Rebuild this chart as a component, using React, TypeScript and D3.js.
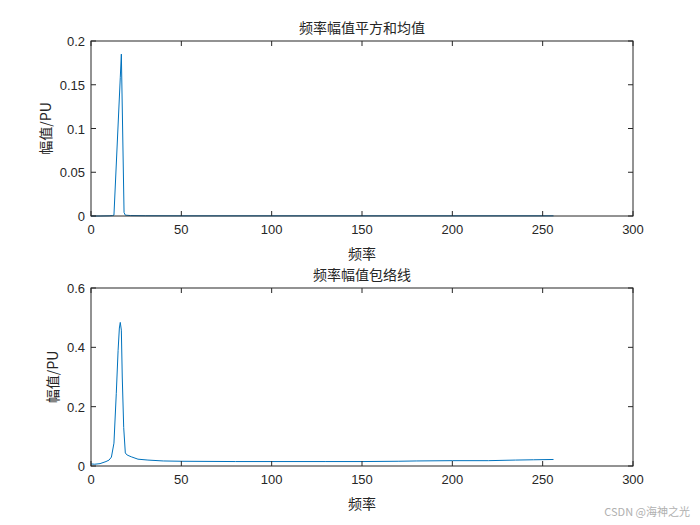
import React from "react";
import * as d3 from "d3";

const topTitle = "频率幅值平方和均值";
const bottomTitle = "频率幅值包络线";
const xLabel = "频率";
const yLabel = "幅值/PU";
const xTicks = [0, 50, 100, 150, 200, 250, 300];
const topYTicks = [0, 0.05, 0.1, 0.15, 0.2];
const bottomYTicks = [0, 0.2, 0.4, 0.6];

// top series: frequency / value
const topFreq = [0, 5, 10, 12, 12.7, 16.2, 16.8, 18.3, 19, 22, 30, 50, 100, 150, 200, 256];
const topVal = [0, 0, 0.0002, 0.0005, 0.001, 0.158, 0.185, 0.004, 0.001, 0.0005, 0.0003, 0.0002, 0.0002, 0.0002, 0.0002, 0.0002];

// bottom series: envelope
const botFreq = [0, 2, 5, 8.3, 10, 11.3, 12.7, 14, 15, 15.7, 16.2, 16.8, 17.3, 18.1, 19, 20, 22.3, 26, 31.5, 40, 50, 80, 100, 130, 150, 170, 180, 200, 220, 235, 245, 256];
const botVal = [0.007, 0.006, 0.008, 0.015, 0.02, 0.03, 0.077, 0.245, 0.39, 0.465, 0.484, 0.458, 0.3, 0.13, 0.044, 0.037, 0.031, 0.023, 0.02, 0.017, 0.016, 0.015, 0.015, 0.015, 0.015, 0.016, 0.017, 0.018, 0.018, 0.02, 0.021, 0.022];

const L = 91, R = 633;
const axisColor = "#262626";
const lineColor = "#0072BD";
const fontLatin = "Liberation Sans, Arial, sans-serif";
const fontCJK = "'Noto Sans CJK SC', sans-serif";

function Panel({ top, bottom, yTicks, yMax, freq, vals, title, yFmt }: any) {
  const x = d3.scaleLinear().domain([0, 300]).range([L, R]);
  const y = d3.scaleLinear().domain([0, yMax]).range([bottom, top]);
  const line = d3.line<number>().x((_, i) => x(freq[i])).y((d) => y(d));
  const tl = 5;
  const midY = (top + bottom) / 2;
  return (
    <g>
      <rect x={L} y={top} width={R - L} height={bottom - top} fill="#fff" />
      <path d={line(vals) || ""} fill="none" stroke={lineColor} strokeWidth={1} />
      <rect x={L} y={top} width={R - L} height={bottom - top} fill="none" stroke={axisColor} strokeWidth={1} />
      {xTicks.map((t) => (
        <g key={"x" + t}>
          <line x1={x(t)} x2={x(t)} y1={bottom} y2={bottom - tl} stroke={axisColor} />
          <line x1={x(t)} x2={x(t)} y1={top} y2={top + tl} stroke={axisColor} />
          <text x={x(t)} y={bottom + 18} textAnchor="middle" fontFamily={fontLatin} fontSize={13} fill={axisColor}>{t}</text>
        </g>
      ))}
      {yTicks.map((t: number) => (
        <g key={"y" + t}>
          <line x1={L} x2={L + tl} y1={y(t)} y2={y(t)} stroke={axisColor} />
          <line x1={R} x2={R - tl} y1={y(t)} y2={y(t)} stroke={axisColor} />
          <text x={L - 6} y={y(t) + 5} textAnchor="end" fontFamily={fontLatin} fontSize={13} fill={axisColor}>{yFmt(t)}</text>
        </g>
      ))}
      <text x={(L + R) / 2} y={top - 8} textAnchor="middle" fontFamily={fontCJK} fontSize={14} fill={axisColor}>{title}</text>
      <text x={(L + R) / 2} y={bottom + 43} textAnchor="middle" fontFamily={fontCJK} fontSize={14} fill={axisColor}>{xLabel}</text>
      <text transform={`translate(${top < 100 ? 51 : 58},${midY}) rotate(-90)`} textAnchor="middle" fontFamily={fontCJK} fontSize={14} fill={axisColor}>{yLabel}</text>
    </g>
  );
}

export default function App() {
  const fmt = (t: number) => (t === 0 ? "0" : String(+t.toFixed(2)));
  return (
    <svg width={700} height={525} style={{ position: "absolute", left: 0, top: 0, background: "#fff" }}>
      <rect width={700} height={525} fill="#fff" />
      <Panel top={41} bottom={216} yTicks={topYTicks} yMax={0.2} freq={topFreq} vals={topVal} title={topTitle} yFmt={fmt} />
      <Panel top={288} bottom={466} yTicks={bottomYTicks} yMax={0.6} freq={botFreq} vals={botVal} title={bottomTitle} yFmt={fmt} />
      <text x={690} y={516} textAnchor="end" fontFamily={fontCJK} fontSize={11} fill="#b0b0b0">CSDN @海神之光</text>
    </svg>
  );
}
